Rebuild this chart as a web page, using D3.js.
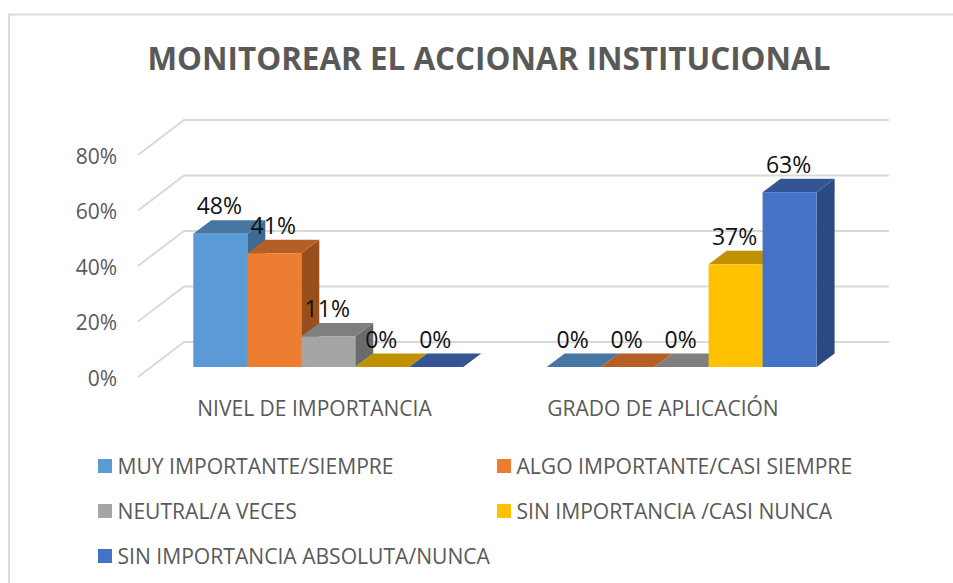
<!DOCTYPE html>
<html><head><meta charset="utf-8">
<script src="https://cdn.jsdelivr.net/npm/d3@7"></script>
<style>html,body{margin:0;padding:0;background:#fff}svg{display:block}</style>
</head><body><div id="chart"></div>
<script>
const categories = ["NIVEL DE IMPORTANCIA", "GRADO DE APLICACIÓN"];
const seriesNames = ["MUY IMPORTANTE/SIEMPRE", "ALGO IMPORTANTE/CASI SIEMPRE", "NEUTRAL/A VECES", "SIN IMPORTANCIA /CASI NUNCA", "SIN IMPORTANCIA ABSOLUTA/NUNCA"];
const muyImportante = [48, 0];
const algoImportante = [41, 0];
const neutral = [11, 0];
const sinImportancia = [0, 37];
const sinImportanciaAbsoluta = [0, 63];
const seriesValues = [muyImportante, algoImportante, neutral, sinImportancia, sinImportanciaAbsoluta];
const axisTicks = [0, 20, 40, 60, 80];
const frontColors = ["#5b9bd5", "#ed7d31", "#a5a5a5", "#ffc000", "#4472c4"];
const topColors = ["#4776a2", "#b45f25", "#7f7f7f", "#bf9000", "#345594"];
const sideColors = ["#3d6a94", "#994f1c", "#6b6b6b", "#a37b00", "#2c4a82"];

const W = 953, H = 583;
const dx = 18, dy = 13.5;
const floorY = 367;
const svg = d3.select("#chart").append("svg").attr("width", W).attr("height", H);
const sans = "'Open Sans', sans-serif";

const y = d3.scaleLinear().domain([0, 80]).range([floorY, floorY - 222]);
const x0 = d3.scaleBand().domain(categories).range([193.3, 816.6]).paddingInner(0.236).paddingOuter(0);
const x1 = d3.scaleBand().domain(d3.range(seriesNames.length)).range([0, x0.bandwidth()]);

// frame
svg.append("path").attr("d", `M9,${H}V14.5H${W}`).attr("fill", "none").attr("stroke", "#dcdcdc").attr("stroke-width", 2);

// title
svg.append("text").attr("x", 489).attr("y", 70).attr("text-anchor", "middle")
  .attr("font-family", sans).attr("font-weight", 700).attr("font-size", 31.4).attr("fill", "#595959")
  .text("MONITOREAR EL ACCIONAR INSTITUCIONAL");

// back wall grid + side wall grid
const grid = svg.append("g").attr("fill", "none").attr("stroke", "#d9d9d9").attr("stroke-width", 2);
axisTicks.forEach(t => {
  const fy = y(t) + 10, bx = 184, fx = 138;
  grid.append("path").attr("d", `M${fx},${fy}L${bx},${fy - 35}H889`);
});

// axis labels
svg.append("g").selectAll("text").data(axisTicks).join("text")
  .attr("x", 117).attr("y", d => y(d) + 11).attr("dy", "0.36em").attr("text-anchor", "end")
  .attr("font-family", sans).attr("font-size", 21).attr("fill", "#595959").text(d => d + "%");

// bars
const labels = [];
categories.forEach((c, ci) => {
  seriesValues.forEach((vals, si) => {
    const v = vals[ci];
    const xL = x0(c) + x1(si), w = x1.bandwidth(), yT = y(v), yB = y(0);
    const g = svg.append("g");
    g.append("path").attr("fill", sideColors[si])
      .attr("d", `M${xL + w},${yT}l${dx},${-dy}V${yB - dy}L${xL + w},${yB}Z`);
    g.append("path").attr("fill", topColors[si])
      .attr("d", `M${xL},${yT}l${dx},${-dy}h${w}l${-dx},${dy}Z`);
    if (v > 0) g.append("rect").attr("x", xL).attr("y", yT).attr("width", w).attr("height", yB - yT).attr("fill", frontColors[si]);
    labels.push({x: xL + w / 2 - 1, y: yT - 19.5, t: v + "%"});
  });
});
svg.append("g").selectAll("text").data(labels).join("text")
  .attr("x", d => d.x).attr("y", d => d.y).attr("text-anchor", "middle")
  .attr("font-family", sans).attr("font-size", 23).attr("fill", "#111").text(d => d.t);

// category labels
const categoryLabelX = [314.5, 663];
svg.append("g").selectAll("text").data(categories).join("text")
  .attr("x", (d, i) => categoryLabelX[i])
  .attr("y", 416).attr("text-anchor", "middle")
  .attr("font-family", sans).attr("font-size", 21).attr("fill", "#595959").text(d => d);

// legend
const legendX = [98, 497], legendY = [466, 511, 556];
const leg = svg.append("g").selectAll("g").data(seriesNames).join("g")
  .attr("transform", (d, i) => `translate(${legendX[i % 2]},${legendY[Math.floor(i / 2)]})`);
leg.append("rect").attr("x", 0).attr("y", -7).attr("width", 14).attr("height", 14).attr("fill", (d, i) => frontColors[i]);
leg.append("text").attr("x", 19.5).attr("dy", "0.36em")
  .attr("font-family", sans).attr("font-size", 21.1).attr("fill", "#595959").text(d => d);
</script></body></html>
